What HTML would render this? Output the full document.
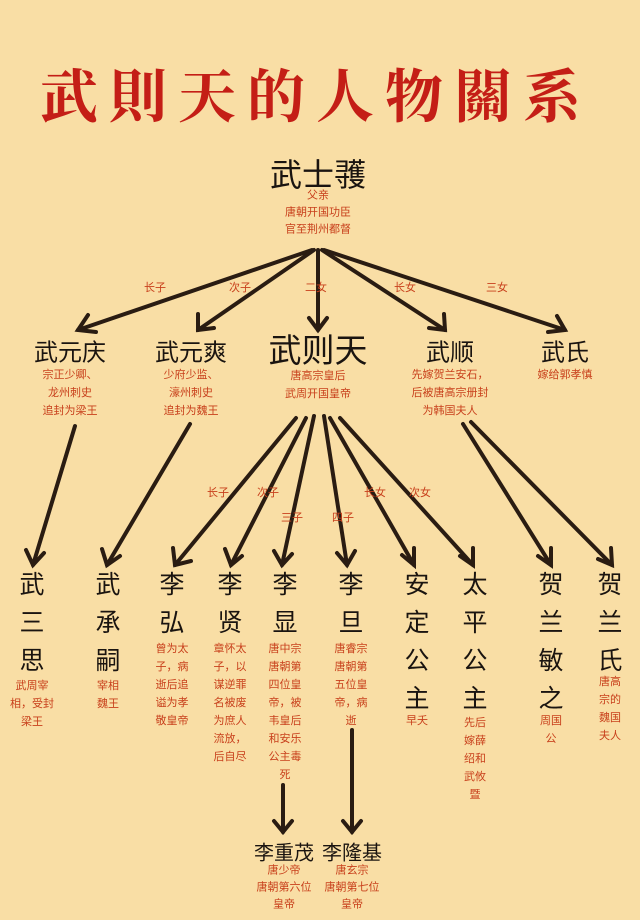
<!DOCTYPE html>
<html><head><meta charset="utf-8"><style>
body{margin:0;width:640px;height:920px;overflow:hidden;background:#f9dea5;position:relative;font-family:"Liberation Sans","Noto Sans CJK SC",sans-serif}
.t{position:absolute;white-space:nowrap;transform:translate(-50%,-50%);text-align:center}
.n{color:#1a1410}
.s{color:#c8401c;font-size:11px;line-height:18px}
.v{position:absolute;transform:translateX(-50%);text-align:center;color:#1a1410;font-size:25px;line-height:38px;width:30px}
.vs{position:absolute;transform:translateX(-50%);text-align:center;color:#c8401c;font-size:11px;line-height:18px}
</style></head><body>
<div class="t" style="left:316px;top:92px;font-family:'Noto Serif CJK SC',serif;font-size:58px;color:#c41e16;letter-spacing:11px;font-weight:bold">武則天的人物關系</div>
<svg width="640" height="920" style="position:absolute;left:0;top:0">
<g stroke="#2a1c12" stroke-width="4" fill="none" stroke-linecap="round">
<line x1="312" y1="250" x2="78" y2="330"/><polyline points="88,315 78,330 96,332"/>
<line x1="314" y1="250" x2="198" y2="330"/><polyline points="198,314 198,330 214,328"/>
<line x1="318" y1="250" x2="318" y2="330"/><polyline points="309,318 318,330 327,318"/>
<line x1="322" y1="250" x2="445" y2="330"/><polyline points="429,328 445,330 444,314"/>
<line x1="324" y1="250" x2="565" y2="330"/><polyline points="548,332 565,330 557,316"/>
<line x1="75" y1="426" x2="33" y2="565"/><polyline points="26,550 33,565 44,553"/>
<line x1="190" y1="424" x2="107" y2="565"/><polyline points="102,549 107,565 120,556"/>
<line x1="296" y1="418" x2="175" y2="565"/><polyline points="173,548 175,565 191,561"/>
<line x1="306" y1="418" x2="231" y2="565"/><polyline points="225,549 231,565 242,556"/>
<line x1="314" y1="416" x2="282" y2="565"/><polyline points="274,551 282,565 292,554"/>
<line x1="324" y1="416" x2="347" y2="565"/><polyline points="337,553 347,565 355,551"/>
<line x1="330" y1="418" x2="414" y2="565"/><polyline points="402,555 414,565 414,548"/>
<line x1="340" y1="418" x2="473" y2="565"/><polyline points="460,556 473,565 473,548"/>
<line x1="463" y1="424" x2="551" y2="565"/><polyline points="538,556 551,565 551,548"/>
<line x1="471" y1="422" x2="612" y2="565"/><polyline points="598,559 612,565 611,548"/>
<line x1="283" y1="785" x2="283" y2="832"/><polyline points="274,821 283,832 292,821"/>
<line x1="352" y1="730" x2="352" y2="832"/><polyline points="343,821 352,832 361,821"/>
</g></svg>
<div class="t n" style="left:318px;top:173px;font-size:32px">武士彟</div>
<div class="t s" style="left:318px;top:213px;line-height:17px">父亲<br>唐朝开国功臣<br>官至荆州都督</div>
<div class="t s" style="left:155px;top:288px">长子</div><div class="t s" style="left:240px;top:288px">次子</div><div class="t s" style="left:316px;top:288px">二女</div><div class="t s" style="left:405px;top:288px">长女</div><div class="t s" style="left:497px;top:288px">三女</div>
<div class="t n" style="left:70px;top:350px;font-size:24px">武元庆</div>
<div class="t s" style="left:70px;top:393px">宗正少卿、<br>龙州刺史<br>追封为梁王</div>
<div class="t n" style="left:191px;top:350px;font-size:24px">武元爽</div>
<div class="t s" style="left:191px;top:393px">少府少监、<br>濠州刺史<br>追封为魏王</div>
<div class="t n" style="left:318px;top:348px;font-size:33px">武则天</div>
<div class="t s" style="left:318px;top:385px">唐高宗皇后<br>武周开国皇帝</div>
<div class="t n" style="left:450px;top:350px;font-size:24px">武顺</div>
<div class="t s" style="left:450px;top:393px">先嫁贺兰安石，<br>后被唐高宗册封<br>为韩国夫人</div>
<div class="t n" style="left:565px;top:350px;font-size:24px">武氏</div>
<div class="t s" style="left:565px;top:375px">嫁给郭孝慎</div>
<div class="t s" style="left:218px;top:493px">长子</div><div class="t s" style="left:268px;top:493px">次子</div><div class="t s" style="left:292px;top:518px">三子</div><div class="t s" style="left:343px;top:518px">四子</div><div class="t s" style="left:375px;top:493px">长女</div><div class="t s" style="left:420px;top:493px">次女</div>
<div class="v" style="left:32px;top:566px">武<br>三<br>思</div><div class="vs" style="left:32px;top:677px">武周宰<br>相，受封<br>梁王</div>
<div class="v" style="left:108px;top:566px">武<br>承<br>嗣</div><div class="vs" style="left:108px;top:677px">宰相<br>魏王</div>
<div class="v" style="left:172px;top:566px">李<br>弘</div><div class="vs" style="left:172px;top:640px">曾为太<br>子，病<br>逝后追<br>谥为孝<br>敬皇帝</div>
<div class="v" style="left:230px;top:566px">李<br>贤</div><div class="vs" style="left:230px;top:640px">章怀太<br>子，以<br>谋逆罪<br>名被废<br>为庶人<br>流放，<br>后自尽</div>
<div class="v" style="left:285px;top:566px">李<br>显</div><div class="vs" style="left:285px;top:640px">唐中宗<br>唐朝第<br>四位皇<br>帝，被<br>韦皇后<br>和安乐<br>公主毒<br>死</div>
<div class="v" style="left:351px;top:566px">李<br>旦</div><div class="vs" style="left:351px;top:640px">唐睿宗<br>唐朝第<br>五位皇<br>帝，病<br>逝</div>
<div class="v" style="left:417px;top:566px">安<br>定<br>公<br>主</div><div class="vs" style="left:417px;top:712px">早夭</div>
<div class="v" style="left:475px;top:566px">太<br>平<br>公<br>主</div><div class="vs" style="left:475px;top:714px">先后<br>嫁薛<br>绍和<br>武攸<br>暨</div>
<div class="v" style="left:551px;top:566px">贺<br>兰<br>敏<br>之</div><div class="vs" style="left:551px;top:712px">周国<br>公</div>
<div class="v" style="left:610px;top:566px">贺<br>兰<br>氏</div><div class="vs" style="left:610px;top:673px">唐高<br>宗的<br>魏国<br>夫人</div>
<div class="t n" style="left:284px;top:851px;font-size:20px">李重茂</div>
<div class="t s" style="left:284px;top:888px;line-height:17px">唐少帝<br>唐朝第六位<br>皇帝</div>
<div class="t n" style="left:352px;top:851px;font-size:20px">李隆基</div>
<div class="t s" style="left:352px;top:888px;line-height:17px">唐玄宗<br>唐朝第七位<br>皇帝</div>
</body></html>
